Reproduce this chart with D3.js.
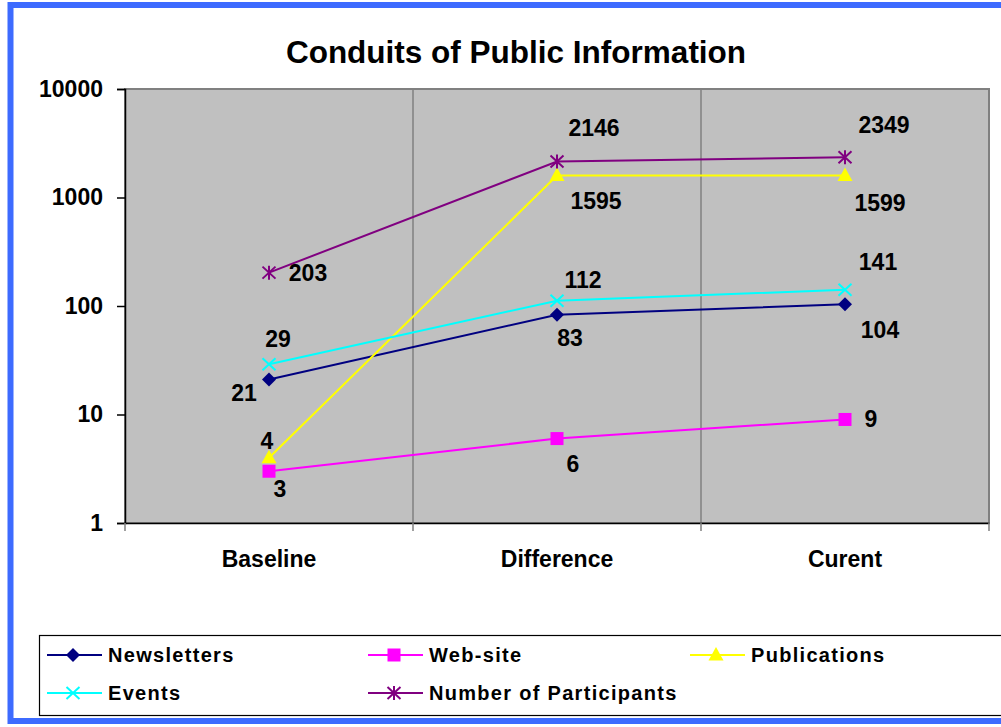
<!DOCTYPE html>
<html>
<head>
  <meta charset="utf-8">
  <title>Conduits of Public Information</title>
  <script src="https://cdn.jsdelivr.net/npm/d3@7"></script>
  <style>
    body { margin: 0; background: #fff; }
    text { font-family: "Liberation Sans", Arial, sans-serif; font-weight: bold; }
  </style>
</head>
<body>
<script>
// data
var categories = ["Baseline", "Difference", "Curent"];
var newsletters = [21, 83, 104];
var website = [3, 6, 9];
var publications = [4, 1595, 1599];
var events = [29, 112, 141];
var participants = [203, 2146, 2349];
var yTicks = [1, 10, 100, 1000, 10000];

var w = 1001, h = 727;
var mLeft = 125, mRight = 989, mTop = 89, mBottom = 523;

// series styles + label offsets (px from the point)
var series = [
  { name: "Newsletters", values: newsletters, color: "#000080", marker: "diamond",
    off: [[-25, 13], [13, 23], [35, 26]] },
  { name: "Web-site", values: website, color: "#ff00ff", marker: "square",
    off: [[11, 17], [16, 25], [26, -1]] },
  { name: "Publications", values: publications, color: "#ffff00", marker: "triangle",
    off: [[-2, -17], [39, 25], [35, 27]] },
  { name: "Events", values: events, color: "#00ffff", marker: "x",
    off: [[9, -26], [26, -21], [33, -28]] },
  { name: "Number of Participants", values: participants, color: "#800080", marker: "star",
    off: [[39, 0], [37, -34], [39, -33]] }
];

var svg = d3.select("body").append("svg").attr("width", w).attr("height", h);

// outer blue frame
svg.append("rect")
  .attr("x", 10.5).attr("y", 5).attr("width", 1010).attr("height", 716)
  .attr("fill", "#fff").attr("stroke", "#3d6bff").attr("stroke-width", 6);

var x = d3.scaleBand().domain(categories).range([mLeft, mRight]);
var y = d3.scaleLog().domain([1, 10000]).range([mBottom, mTop]);

// plot area
svg.append("rect")
  .attr("x", mLeft).attr("y", mTop).attr("width", mRight - mLeft).attr("height", mBottom - mTop)
  .attr("fill", "#c0c0c0").attr("stroke", "#808080").attr("stroke-width", 2);

// vertical gridlines between categories
svg.selectAll(".vgrid").data(categories.slice(1)).enter().append("line")
  .attr("x1", function(d) { return x(d); }).attr("x2", function(d) { return x(d); })
  .attr("y1", mTop).attr("y2", mBottom)
  .attr("stroke", "#808080").attr("stroke-width", 1.5);

// y axis
var yAxis = svg.append("g").attr("transform", "translate(" + mLeft + ",0)")
  .call(d3.axisLeft(y).tickValues(yTicks).tickFormat(d3.format("d")).tickSize(8).tickPadding(14));
yAxis.select(".domain").attr("stroke", "#000").attr("stroke-width", 1.5);
yAxis.selectAll(".tick line").attr("stroke", "#000").attr("stroke-width", 1.5);
yAxis.selectAll("text").attr("font-size", 23).attr("fill", "#000")
  .attr("font-family", "Liberation Sans, Arial, sans-serif").attr("font-weight", "bold");

// x axis
var xAxis = svg.append("g").attr("transform", "translate(0," + mBottom + ")")
  .call(d3.axisBottom(x).tickSize(0).tickPadding(28));
xAxis.select(".domain").attr("stroke", "#000").attr("stroke-width", 1.5);
xAxis.selectAll("text").attr("font-size", 23).attr("fill", "#000")
  .attr("font-family", "Liberation Sans, Arial, sans-serif").attr("font-weight", "bold");
// tick marks at category boundaries
var bounds = categories.map(function(d) { return x(d); }).concat([mRight]);
svg.selectAll(".xtick").data(bounds).enter().append("line")
  .attr("x1", function(d) { return d; }).attr("x2", function(d) { return d; })
  .attr("y1", mBottom).attr("y2", mBottom + 8)
  .attr("stroke", "#808080").attr("stroke-width", 1.5);

// title
svg.append("text")
  .attr("x", 516).attr("y", 63).attr("text-anchor", "middle")
  .attr("font-size", 31.5).attr("fill", "#000")
  .text("Conduits of Public Information");

function cx(i) { return x(categories[i]) + x.bandwidth() / 2; }

function drawMarker(g, type, color) {
  if (type === "diamond") {
    g.append("path").attr("d", "M0,-7L7,0L0,7L-7,0Z").attr("fill", color);
  } else if (type === "square") {
    g.append("rect").attr("x", -6.5).attr("y", -6.5).attr("width", 13).attr("height", 13).attr("fill", color);
  } else if (type === "triangle") {
    g.append("path").attr("d", "M0,-8L7.5,5.5L-7.5,5.5Z").attr("fill", color);
  } else if (type === "x") {
    g.append("path").attr("d", "M-6.5,-6L6.5,6M-6.5,6L6.5,-6").attr("stroke", color).attr("stroke-width", 2);
  } else if (type === "star") {
    g.append("path").attr("d", "M-6.5,-6L6.5,6M-6.5,6L6.5,-6M0,-7L0,7").attr("stroke", color).attr("stroke-width", 2);
  }
}

var line = d3.line()
  .x(function(d, i) { return cx(i); })
  .y(function(d) { return y(d); });

series.forEach(function(s) {
  var g = svg.append("g");
  g.append("path").attr("d", line(s.values))
    .attr("fill", "none").attr("stroke", s.color).attr("stroke-width", 2);
  s.values.forEach(function(v, i) {
    var m = g.append("g").attr("transform", "translate(" + cx(i) + "," + y(v) + ")");
    drawMarker(m, s.marker, s.color);
  });
});
// labels on top of all lines
series.forEach(function(s) {
  s.values.forEach(function(v, i) {
    svg.append("text")
      .attr("x", cx(i) + s.off[i][0]).attr("y", y(v) + s.off[i][1])
      .attr("dy", "0.36em").attr("text-anchor", "middle")
      .attr("font-size", 23).attr("fill", "#000")
      .text(v);
  });
});

// legend
svg.append("rect")
  .attr("x", 39.5).attr("y", 635.5).attr("width", 1000).attr("height", 80)
  .attr("fill", "#fff").attr("stroke", "#000").attr("stroke-width", 1.2);

var legX = [47, 368, 690];
var legY = [655, 693];
series.forEach(function(s, i) {
  var lx = legX[i % 3], ly = legY[Math.floor(i / 3)];
  var g = svg.append("g").attr("transform", "translate(" + lx + "," + ly + ")");
  g.append("line").attr("x1", 0).attr("x2", 55).attr("y1", 0).attr("y2", 0)
    .attr("stroke", s.color).attr("stroke-width", 2);
  var m = g.append("g").attr("transform", "translate(26,0)");
  drawMarker(m, s.marker, s.color);
  g.append("text").attr("x", 61).attr("y", 0).attr("dy", "0.36em")
    .attr("font-size", 20).attr("fill", "#000").attr("letter-spacing", 1.3)
    .text(s.name);
});
</script>
</body>
</html>
